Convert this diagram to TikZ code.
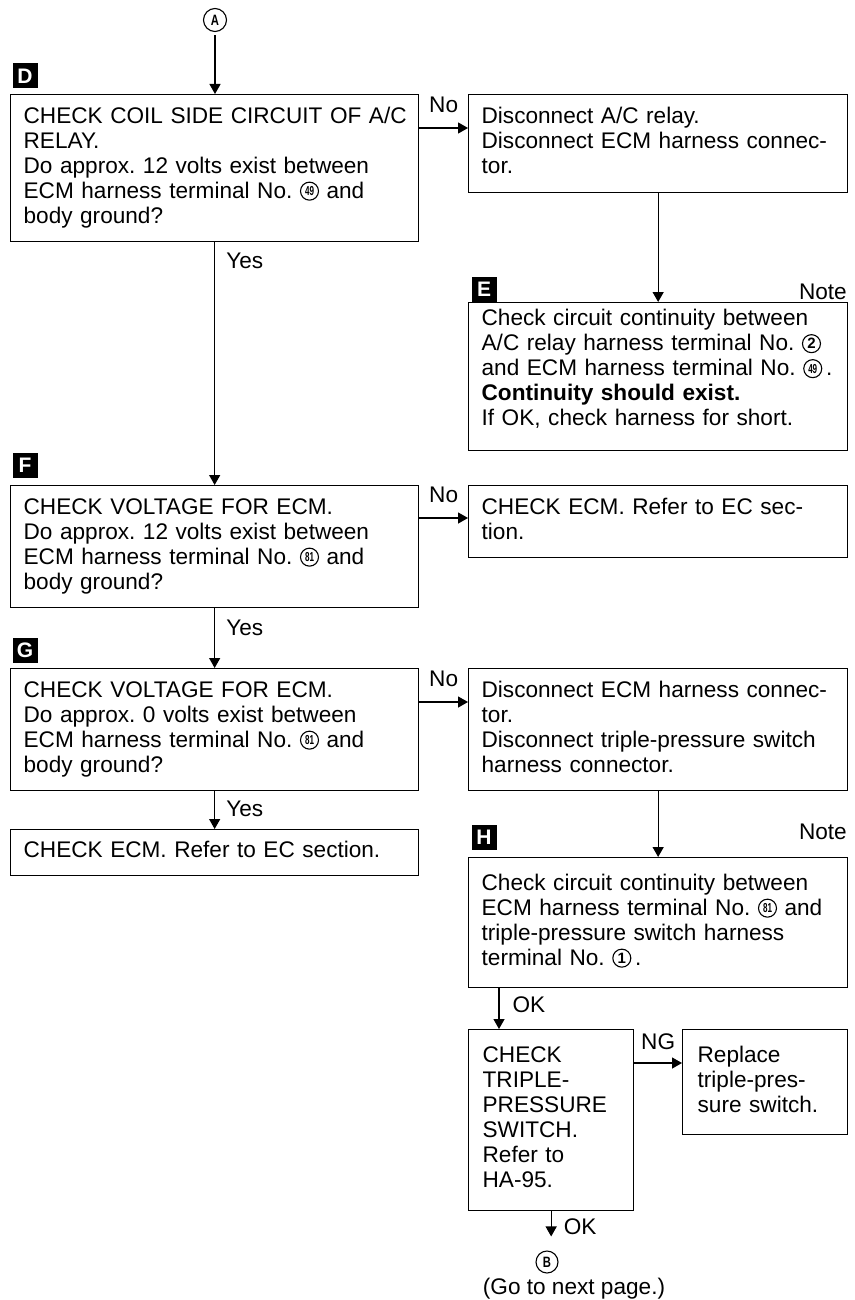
\documentclass[tikz,border=0pt]{standalone}
\usepackage{fontspec}
\usepackage{graphicx}
\setmainfont{Liberation Sans}
\usetikzlibrary{arrows.meta}
\newcommand{\cnn}[1]{\tikz[baseline=0pt]\node[draw,circle,line width=1.1pt,inner sep=0pt,minimum size=18pt,text width=,align=center,anchor=center,text=black,fill=none,font={\fontsize{13}{13}\selectfont\bfseries}] at (0pt,7pt) {\scalebox{0.62}[1]{#1}};}
\newcommand{\cnb}[1]{\tikz[baseline=0pt]\node[draw,circle,line width=1.1pt,inner sep=0pt,minimum size=18pt,text width=,align=center,anchor=center,text=black,fill=none,font={\fontsize{15}{15}\selectfont\bfseries}] at (0pt,7pt) {#1};}
\newcommand{\lines}[1]{\begin{tabular}{@{}l@{}}#1\end{tabular}}
\frenchspacing
\begin{document}
\begin{tikzpicture}[x=1pt,y=-1pt,
  box/.style={draw,line width=1.3pt,anchor=north west,align=left,inner xsep=13pt,inner ysep=0pt,font=\fontsize{22.6}{25}\selectfont},
  arr/.style={line width=1.3pt,-{Triangle[length=10pt,width=11pt]}},
  lbl/.style={font=\fontsize{22.6}{25}\selectfont,inner sep=0pt},
  tag/.style={fill=black,text=white,minimum width=25pt,minimum height=25pt,inner sep=0pt,font=\fontsize{21}{21}\selectfont\bfseries},
  conn/.style={draw,circle,line width=1.1pt,inner sep=0pt,font=\fontsize{15}{15}\selectfont\bfseries}]
\path[fill=white] (0,0) rectangle (854,1300);
\useasboundingbox (0,0) rectangle (854,1300);

% connector circle A
\node[conn,minimum size=23pt] (A) at (215,20) {\scalebox{0.75}[1]{A}};

% tags
\node[tag] (tD) at (25,76) {D};
\node[tag] (tE) at (484,289) {E};
\node[tag] (tF) at (25,465) {F};
\node[tag] (tG) at (25,650) {G};
\node[tag] (tH) at (484,837) {H};

% boxes
\node[box,text width=382pt,minimum height=147pt] (D) at (10,94)
 {\lines{CHECK COIL SIDE CIRCUIT OF A/C\\ RELAY.\\ Do approx. 12 volts exist between\\ ECM harness terminal No. \cnn{49} and\\ body ground?}};
\node[box,text width=353pt,minimum height=98pt] (D1) at (468,94)
 {\lines{Disconnect A/C relay.\\ Disconnect ECM harness connec-\\ tor.}};
\node[box,text width=353pt,minimum height=148pt] (E) at (468,302)
 {\lines{Check circuit continuity between\\ A/C relay harness terminal No. \cnb{2}\\ and ECM harness terminal No. \cnn{49}\,.\\ \textbf{Continuity should exist.}\\ If OK, check harness for short.\\[12pt]}};
\node[box,text width=382pt,minimum height=122pt] (F) at (10,485)
 {\lines{CHECK VOLTAGE FOR ECM.\\ Do approx. 12 volts exist between\\ ECM harness terminal No. \cnn{81} and\\ body ground?}};
\node[box,text width=353pt,minimum height=72pt] (F1) at (468,485)
 {\lines{CHECK ECM. Refer to EC sec-\\ tion.}};
\node[box,text width=382pt,minimum height=122pt] (G) at (10,668)
 {\lines{CHECK VOLTAGE FOR ECM.\\ Do approx. 0 volts exist between\\ ECM harness terminal No. \cnn{81} and\\ body ground?}};
\node[box,text width=353pt,minimum height=122pt] (G1) at (468,668)
 {\lines{Disconnect ECM harness connec-\\ tor.\\ Disconnect triple-pressure switch\\ harness connector.}};
\node[box,text width=382pt,minimum height=46pt] (G2) at (10,829)
 {\lines{CHECK ECM. Refer to EC section.}};
\node[box,text width=353pt,minimum height=130pt] (H) at (468,857)
 {\lines{Check circuit continuity between\\ ECM harness terminal No. \cnn{81} and\\ triple-pressure switch harness\\ terminal No. \cnb{1}\,.}};
\node[box,inner xsep=14pt,text width=137pt,minimum height=181pt] (H2) at (468,1029)
 {\lines{CHECK\\ TRIPLE-\\ PRESSURE\\ SWITCH.\\ Refer to\\ HA-95.}};
\node[box,inner xsep=15pt,text width=135pt,minimum height=105pt] (H3) at (682,1029)
 {\lines{Replace\\ triple-pres-\\ sure switch.}};

% notes
\node[lbl,anchor=base east] (nE) at (847,299) {Note};
\node[lbl,anchor=base east] (nH) at (847,839) {Note};

% connector circle B
\node[conn,minimum size=22pt] (B) at (547,1262) {\scalebox{0.75}[1]{B}};
\node[lbl,anchor=base] (go) at (574,1294) {(Go to next page.)};

% connectors
\draw[arr,shorten <=3pt] (A) -- (A |- D.north);
\draw[arr] ([yshift=-34pt]D.north east) -- ([yshift=-34pt]D.north east -| D1.west)
  node[lbl,midway,above=15pt] {No};
\draw[arr] (D1.south) -- (E.north);
\draw[arr] (D.south) -- (F.north)
  node[lbl,pos=0,anchor=base west,xshift=11pt,yshift=-26pt] {Yes};
\draw[arr] ([yshift=-33pt]F.north east) -- ([yshift=-33pt]F.north east -| F1.west)
  node[lbl,midway,above=15pt] {No};
\draw[arr] (F.south) -- (G.north)
  node[lbl,pos=0,anchor=base west,xshift=11pt,yshift=-27pt] {Yes};
\draw[arr] ([yshift=-34pt]G.north east) -- ([yshift=-34pt]G.north east -| G1.west)
  node[lbl,midway,above=15pt] {No};
\draw[arr] (G.south) -- (G2.north)
  node[lbl,pos=0,anchor=base west,xshift=11pt,yshift=-25pt] {Yes};
\draw[arr] (G1.south) -- (H.north);
\draw[arr] ([xshift=31pt]H.south west) -- ([xshift=31pt]H.south west |- H2.north)
  node[lbl,pos=0,anchor=base west,xshift=13pt,yshift=-24pt] {OK};
\draw[arr] ([yshift=-34pt]H2.north east) -- ([yshift=-34pt]H2.north east -| H3.west)
  node[lbl,midway,above=13pt] {NG};
\draw[arr,shorten >=14pt] (H2.south) -- (H2.south |- B.north)
  node[lbl,pos=0,anchor=base west,xshift=12pt,yshift=-23pt] {OK};
\end{tikzpicture}
\end{document}
